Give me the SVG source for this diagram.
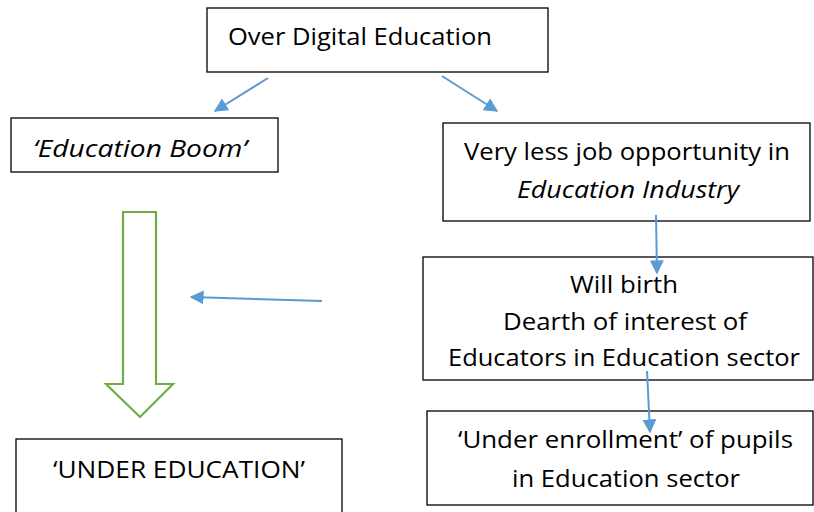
<svg xmlns="http://www.w3.org/2000/svg" width="814" height="512" viewBox="0 0 814 512">
<style>
.box{fill:#fff;stroke:#000;stroke-width:1.3}
.t{font-family:"Open Sans","Noto Sans","Liberation Sans",sans-serif;font-size:23px;fill:#000}
.i{font-style:italic}
.c{stroke:#5B9BD5;stroke-width:2;fill:none}
</style>
<defs>
<marker id="ah" viewBox="0 0 10 10" refX="9" refY="5" markerWidth="7" markerHeight="7" markerUnits="userSpaceOnUse" orient="auto">
<path d="M0,0 L10,5 L0,10 z" fill="#5B9BD5"/>
</marker>
<marker id="ah2" viewBox="0 0 10 10" refX="9" refY="5" markerWidth="14" markerHeight="14" markerUnits="userSpaceOnUse" orient="auto">
<path d="M0,0 L10,5 L0,10 z" fill="#5B9BD5"/>
</marker>
</defs>
<rect width="814" height="512" fill="#fff"/>
<g id="n-top"><rect class="box" x="207" y="8" width="341" height="64"/><text class="t" x="228" y="45" textLength="264" lengthAdjust="spacingAndGlyphs">Over Digital Education</text></g>
<g id="n-boom"><rect class="box" x="11" y="118" width="267" height="54"/><text class="t i" x="33" y="157" textLength="214" lengthAdjust="spacingAndGlyphs">‘Education Boom’</text></g>
<g id="n-job"><rect class="box" x="443" y="123" width="367" height="98"/><text class="t" x="464" y="160" textLength="326" lengthAdjust="spacingAndGlyphs">Very less job opportunity in</text><text class="t i" x="517" y="198" textLength="222" lengthAdjust="spacingAndGlyphs">Education Industry</text></g>
<g id="n-dearth"><rect class="box" x="423" y="257" width="390" height="123"/><text class="t" x="570" y="293" textLength="108" lengthAdjust="spacingAndGlyphs">Will birth</text><text class="t" x="503" y="330" textLength="244" lengthAdjust="spacingAndGlyphs">Dearth of interest of</text><text class="t" x="448" y="366" textLength="352" lengthAdjust="spacingAndGlyphs">Educators in Education sector</text></g>
<g id="n-enroll"><rect class="box" x="427" y="411" width="386" height="94"/><text class="t" x="458" y="448" textLength="335" lengthAdjust="spacingAndGlyphs">‘Under enrollment’ of pupils</text><text class="t" x="512" y="487" textLength="228" lengthAdjust="spacingAndGlyphs">in Education sector</text></g>
<g id="n-under"><rect class="box" x="16" y="439" width="326" height="80"/><text class="t" x="53" y="478" textLength="252" lengthAdjust="spacingAndGlyphs">‘UNDER EDUCATION’</text></g>
<g id="n-blockarrow"><path d="M123,212 L156,212 L156,384 L173,384 L140,417 L106,384 L123,384 Z" fill="#fff" stroke="#70AD47" stroke-width="2.2" stroke-linejoin="miter"/></g>
<g id="connectors">
<line class="c" x1="268" y1="78" x2="215" y2="111" marker-end="url(#ah2)"/>
<line class="c" x1="442" y1="76" x2="497" y2="111" marker-end="url(#ah2)"/>
<line class="c" x1="656" y1="215" x2="657" y2="273" marker-end="url(#ah2)"/>
<line class="c" x1="647" y1="371" x2="650" y2="432" marker-end="url(#ah2)"/>
<line class="c" x1="322" y1="301" x2="191" y2="297" marker-end="url(#ah2)"/>
</g>
</svg>
